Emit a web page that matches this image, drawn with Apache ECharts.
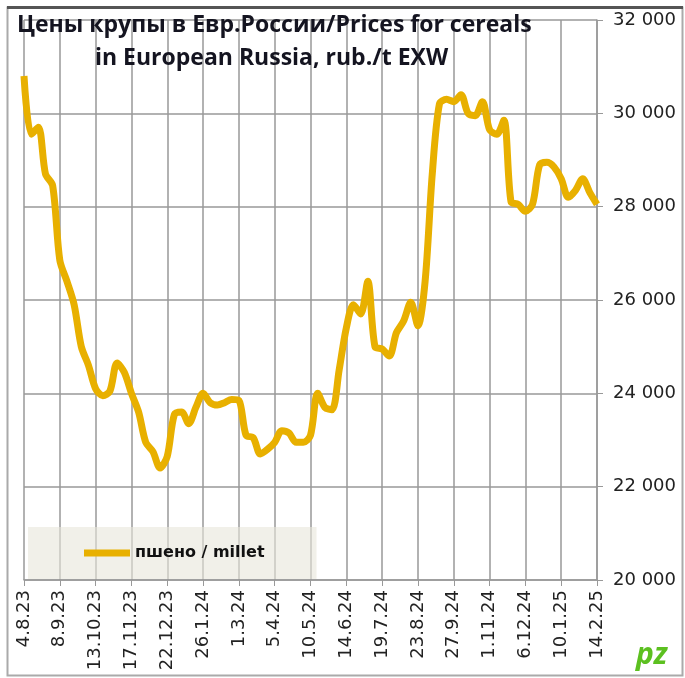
<!DOCTYPE html>
<html>
<head>
<meta charset="utf-8">
<script src="https://cdn.jsdelivr.net/npm/echarts@6/dist/echarts.min.js"></script>
<style>
  html, body { margin: 0; padding: 0; background: #fff; }
  #main { width: 685px; height: 678px; }
</style>
</head>
<body>
<div id="main"></div>
<script>
var chartDom = document.getElementById("main");
var myChart = echarts.init(chartDom);
var option;

// weekly dates, 4.8.23 .. 14.2.25
var dates = [
  "4.8.23", "11.8.23", "18.8.23", "25.8.23", "1.9.23",
  "8.9.23", "15.9.23", "22.9.23", "29.9.23", "6.10.23",
  "13.10.23", "20.10.23", "27.10.23", "3.11.23", "10.11.23",
  "17.11.23", "24.11.23", "1.12.23", "8.12.23", "15.12.23",
  "22.12.23", "29.12.23", "5.1.24", "12.1.24", "19.1.24",
  "26.1.24", "2.2.24", "9.2.24", "16.2.24", "23.2.24",
  "1.3.24", "8.3.24", "15.3.24", "22.3.24", "29.3.24",
  "5.4.24", "12.4.24", "19.4.24", "26.4.24", "3.5.24",
  "10.5.24", "17.5.24", "24.5.24", "31.5.24", "7.6.24",
  "14.6.24", "21.6.24", "28.6.24", "5.7.24", "12.7.24",
  "19.7.24", "26.7.24", "2.8.24", "9.8.24", "16.8.24",
  "23.8.24", "30.8.24", "6.9.24", "13.9.24", "20.9.24",
  "27.9.24", "4.10.24", "11.10.24", "18.10.24", "25.10.24",
  "1.11.24", "8.11.24", "15.11.24", "22.11.24", "29.11.24",
  "6.12.24", "13.12.24", "20.12.24", "27.12.24", "3.1.25",
  "10.1.25", "17.1.25", "24.1.25", "31.1.25", "7.2.25",
  "14.2.25"
];

// пшено / millet, rub./t
var millet = [
  30800, 29550, 29700, 28700, 28450,
  26850, 26400, 25900, 25000, 24600,
  24100, 23950, 24050, 24650, 24450,
  24000, 23600, 22950, 22750, 22400,
  22650, 23550, 23600, 23350, 23700,
  24000, 23800, 23750, 23800, 23870,
  23850, 23100, 23050, 22700, 22800,
  22950, 23200, 23150, 22950, 22950,
  23100, 24000, 23700, 23650, 24500,
  25400, 25900, 25700, 26400, 25000,
  24950, 24800, 25300, 25550, 25950,
  25450, 26400, 28700, 30200, 30300,
  30250, 30400, 30000, 29950, 30250,
  29650, 29550, 29850, 28100, 28050,
  27900, 28050, 28900, 28950, 28850,
  28600, 28200, 28350, 28600, 28300,
  28050
];

var titleLines = [
  "Цены крупы в Евр.России/Prices for cereals",
  "in European Russia, rub./t EXW"
];
var seriesName = "пшено / millet";

var font = "'Open Sans', 'Noto Sans', sans-serif";
var axisFont = "'DejaVu Sans', Verdana, sans-serif";

option = {
  animation: false,
  backgroundColor: "#fff",
  textStyle: { fontFamily: font },
  graphic: [
    {
      type: "rect",
      shape: { x: 7.5, y: 7.5, width: 675, height: 668 },
      style: { fill: "none", stroke: "#aaa", lineWidth: 2 },
      z: -1
    },
    {
      type: "line",
      shape: { x1: 7, y1: 7.5, x2: 683, y2: 7.5 },
      style: { stroke: "#555", lineWidth: 3 }
    },
    {
      type: "text",
      left: 17,
      top: 14,
      style: {
        text: titleLines[0],
        font: "bold 23px " + font,
        fill: "#141420",
        shadowColor: "rgba(20,30,80,0.35)",
        shadowBlur: 2
      },
      z: 10
    },
    {
      type: "text",
      left: 95,
      top: 47,
      style: {
        text: titleLines[1],
        font: "bold 23px " + font,
        fill: "#141420",
        shadowColor: "rgba(20,30,80,0.35)",
        shadowBlur: 2
      },
      z: 10
    },
    {
      type: "text",
      left: 636,
      top: 640,
      style: {
        text: "pz",
        font: "italic bold 30px " + font,
        fill: "#5cc020"
      }
    }
  ],
  grid: {
    left: 24,
    right: 88,
    top: 20,
    bottom: 98,
    containLabel: false
  },
  legend: {
    left: 28,
    top: 527,
    padding: [18, 52, 18, 56],
    backgroundColor: "rgba(232,230,218,0.6)",
    itemWidth: 46,
    itemHeight: 7,
    icon: "rect",
    itemGap: 4,
    textStyle: { fontSize: 16, color: "#111", fontWeight: "bold", fontFamily: axisFont },
    data: [seriesName]
  },
  xAxis: {
    type: "category",
    boundaryGap: false,
    data: dates,
    axisLine: { lineStyle: { color: "#999", width: 1.5 } },
    axisTick: { show: true, interval: 4, length: 6, lineStyle: { color: "#999" } },
    axisLabel: {
      interval: 4,
      rotate: 90,
      fontSize: 18,
      fontFamily: axisFont,
      color: "#222",
      margin: 10
    },
    splitLine: { show: true, interval: 4, lineStyle: { color: "#999", width: 1.5 } }
  },
  yAxis: {
    type: "value",
    position: "right",
    min: 20000,
    max: 32000,
    interval: 2000,
    axisLine: { show: true, lineStyle: { color: "#999", width: 1.5 } },
    axisTick: { show: true, inside: false, length: 6, lineStyle: { color: "#999" } },
    axisLabel: {
      fontSize: 18,
      fontFamily: axisFont,
      color: "#222",
      margin: 16,
      formatter: function (v) {
        return String(v).replace(/\B(?=(\d{3})+(?!\d))/g, " ");
      }
    },
    splitLine: { show: true, lineStyle: { color: "#999", width: 1.5 } }
  },
  series: [
    {
      name: seriesName,
      type: "line",
      data: millet,
      smooth: 0.3,
      symbol: "none",
      lineStyle: { color: "#e8b000", width: 7 },
      itemStyle: { color: "#e8b000" }
    }
  ]
};

option && myChart.setOption(option);
</script>
</body>
</html>
